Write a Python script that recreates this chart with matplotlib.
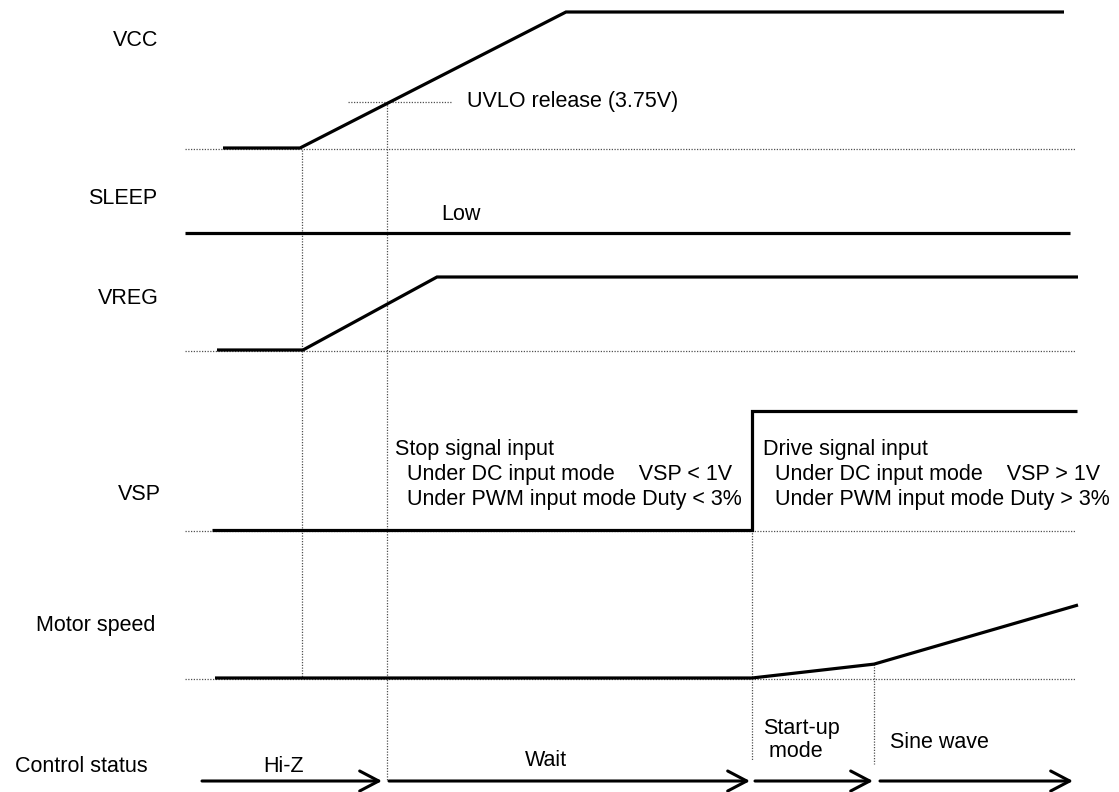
import matplotlib
matplotlib.use("Agg")
import matplotlib.pyplot as plt

plt.rcParams['font.family'] = ['Liberation Sans', 'DejaVu Sans']

# time axis of the diagram (arbitrary units along x)
T_START = 185
T_END = 1076

# signal waveforms: breakpoints in time, normalised level 0..1
vcc_t = [223, 300, 566, 1064]
vcc_lvl = [0, 0, 1, 1]
uvlo_lvl = 0.34          # UVLO release (3.75V) on the VCC ramp
uvlo_t = 387

sleep_t = [185, 1070]
sleep_lvl = [0, 0]

vreg_t = [217, 303, 437, 1078]
vreg_lvl = [0, 0, 1, 1]

vsp_t = [212, 752, 752, 1077]
vsp_lvl = [0, 0, 1, 1]

motor_t = [215, 752, 874, 1078]
motor_lvl = [0, 0, 0.19, 1]

# control status phases
phase_names = ["Hi-Z", "Wait", "Start-up\n mode", "Sine wave"]
phase_start = [202, 389, 755, 880]
phase_end = [382, 750, 873, 1073]

row_names = ["VCC", "SLEEP", "VREG", "VSP", "Motor speed", "Control status"]

# layout of rows: baseline (px from top) and height of a "1" level
row_base = {"VCC": 148, "SLEEP": 233, "VREG": 350, "VSP": 530, "Motor speed": 678}
row_height = {"VCC": 136, "SLEEP": 0, "VREG": 73, "VSP": 119, "Motor speed": 73}
label_pos = {"VCC": (158, 41), "SLEEP": (157, 199), "VREG": (159, 298),
             "VSP": (161, 494), "Motor speed": (155, 626), "Control status": (148, 766)}
status_y = 781

fig = plt.figure(figsize=(11.19, 7.92), dpi=100)
ax = fig.add_axes([0, 0, 1, 1])
ax.set_xlim(0, 1119)
ax.set_ylim(792, 0)
ax.axis('off')

FS = 15.5
dot = dict(color='#505050', lw=0.9, linestyle=(0, (1, 1.2)))
sig = dict(color='black', lw=2.3, solid_joinstyle='miter', solid_capstyle='butt')


def y_of(row, lvl):
    return row_base[row] - lvl * row_height[row]


# dotted baselines
for row in ["VCC", "VREG", "VSP", "Motor speed"]:
    ax.plot([T_START, T_END], [row_base[row] + 1, row_base[row] + 1], **dot, zorder=1)

# waveforms
for row, t, lvl in [("VCC", vcc_t, vcc_lvl), ("SLEEP", sleep_t, sleep_lvl),
                    ("VREG", vreg_t, vreg_lvl), ("VSP", vsp_t, vsp_lvl),
                    ("Motor speed", motor_t, motor_lvl)]:
    ax.plot(t, [y_of(row, v) for v in lvl], **sig, zorder=3)

# UVLO marker
y_uvlo = y_of("VCC", uvlo_lvl)
ax.plot([348, 452], [y_uvlo, y_uvlo], **dot, zorder=1)
ax.text(467, y_uvlo, "UVLO release (3.75V)", fontsize=FS, va='center', ha='left')
ax.text(441, 215, "Low", fontsize=FS, va='center', ha='left')

# vertical timing markers
ax.plot([vcc_t[1] + 2, vcc_t[1] + 2], [row_base["VCC"] + 2, row_base["Motor speed"]], **dot)
ax.plot([uvlo_t, uvlo_t], [y_uvlo, status_y], **dot)
ax.plot([vsp_t[1], vsp_t[1]], [row_base["VSP"], 760], **dot)
ax.plot([motor_t[2], motor_t[2]], [y_of("Motor speed", motor_lvl[2]), 764], **dot)

# VSP annotations
stop_lines = ["Stop signal input", "  Under DC input mode    VSP < 1V",
              "  Under PWM input mode Duty < 3%"]
drive_lines = ["Drive signal input", "  Under DC input mode    VSP > 1V",
               "  Under PWM input mode Duty > 3%"]
for i, (a, b) in enumerate(zip(stop_lines, drive_lines)):
    ax.text(395, 449 + 25.5 * i, a, fontsize=FS, va='center', ha='left')
    ax.text(763, 449 + 25.5 * i, b, fontsize=FS, va='center', ha='left')

# row labels
for name in row_names:
    x, y = label_pos[name]
    ax.text(x, y, name, fontsize=FS, va='center', ha='right')

# control status arrows
for name, s, e in zip(phase_names, phase_start, phase_end):
    ax.annotate("", xy=(e, status_y), xytext=(s, status_y),
                arrowprops=dict(arrowstyle='->,head_length=1.37,head_width=0.72',
                                mutation_scale=10, lw=2.2, color='black',
                                shrinkA=0, shrinkB=0))
ax.text(263, 766, phase_names[0], fontsize=FS, va='center', ha='left')
ax.text(525, 760, phase_names[1], fontsize=FS, va='center', ha='left')
ax.text(763, 740, phase_names[2], fontsize=FS, va='center', ha='left', linespacing=1.1)
ax.text(890, 743, phase_names[3], fontsize=FS, va='center', ha='left')

fig.savefig("out.png", dpi=100, facecolor='white')
